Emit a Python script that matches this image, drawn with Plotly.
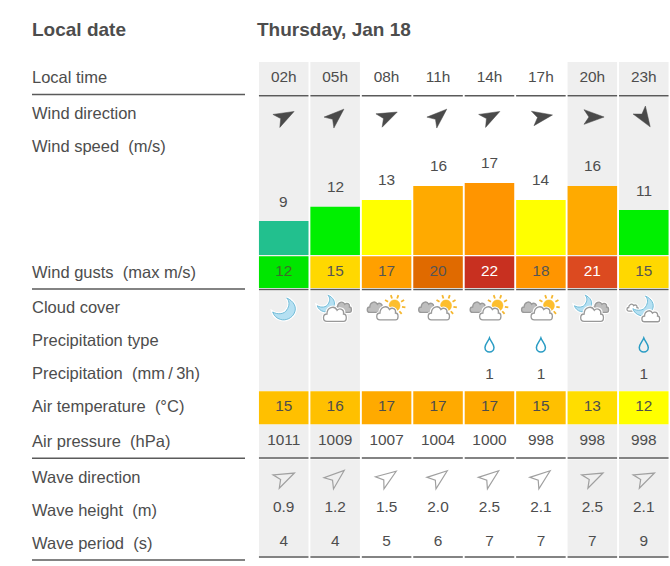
import math
import re
import plotly.graph_objects as go

# ── Data ─────────────────────────────────────────────────────────────────────
hours = ["02h", "05h", "08h", "11h", "14h", "17h", "20h", "23h"]
wind_dir = [62, 48, 65, 48, 62, 80, 90, 147]          # degrees, arrow heading
wind_speed = [9, 12, 13, 16, 17, 14, 16, 11]          # printed numbers
wind_bar = [8.0, 11.4, 13.0, 16.3, 17.0, 13.0, 16.3, 10.6]   # bar heights
wind_colors = ["#22C08E", "#00F000", "#FFFF00", "#FFAA00",
               "#FF9500", "#FFFF00", "#FFAA00", "#00F000"]
gusts = [12, 15, 17, 20, 22, 18, 21, 15]
gust_colors = ["#00E600", "#FFD800", "#FFA000", "#E06A00",
               "#C83020", "#FF9500", "#DC4A20", "#FFD800"]
gust_text = ["#3f6b2a", "#555555", "#555555", "#555555",
             "#ffffff", "#555555", "#ffffff", "#555555"]
cloud_cover = ["moon", "moon_cloud", "sun_cloud", "sun_cloud",
               "sun_cloud", "sun_cloud", "moon_cloud", "moon_clouds"]
precip_type = ["", "", "", "", "rain", "rain", "", "rain"]
precip = ["", "", "", "", "1", "1", "", "1"]
air_temp = [15, 16, 17, 17, 17, 15, 13, 12]
temp_colors = ["#FFC000", "#FFC000", "#FFAA00", "#FFAA00",
               "#FFAA00", "#FFC000", "#FFDD00", "#FFFF00"]
pressure = [1011, 1009, 1007, 1004, 1000, 998, 998, 998]
wave_dir = [65, 50, 55, 52, 52, 52, 65, 65]
wave_height = ["0.9", "1.2", "1.5", "2.0", "2.5", "2.1", "2.5", "2.1"]
wave_period = [4, 4, 5, 6, 7, 7, 7, 9]
night_cols = [0, 1, 6, 7]

labels = ["Local time", "Wind direction", "Wind speed\u00a0 (m/s)",
          "Wind gusts\u00a0 (max m/s)", "Cloud cover", "Precipitation type",
          "Precipitation\u00a0 (mm\u2009/\u20093h)", "Air temperature\u00a0 (°C)",
          "Air pressure\u00a0 (hPa)", "Wave direction", "Wave height\u00a0 (m)",
          "Wave period\u00a0 (s)"]
label_y = [77, 113, 146, 272, 307, 340, 373, 406, 441, 477, 510, 543]

# ── Layout constants (page pixels) ───────────────────────────────────────────
W, H = 670, 566
TXT = "#4d4d4d"
FONT = "Liberation Sans"
CELL = 0.963
WIND_PX = 4.24
xs = list(range(len(hours)))

# ── Icon helpers ─────────────────────────────────────────────────────────────
DART = "M0,-12 L7.5,8.5 L0,3.5 L-7.5,8.5 Z"
CLOUD = ("M-10,8 C-15,8 -15,0 -10,0 C-10,-7 -2,-10 1,-4 C4,-7 9,-5 8,0 "
         "C12,0 12,8 8,8 Z")
MOON = ("M3,-11 C10,-8 13,-2 11,3 C9,9 2,12 -3,10.5 C-7,9.5 -10,6.5 -11,3 "
        "C-6,6 1,5 3,1 C6,-3 6,-8 3,-11 Z")
DROP = ("M0,-7 C1,-4 4.5,-1 4.5,2.5 C4.5,5 2.5,7 0,7 C-2.5,7 -4.5,5 -4.5,2.5 "
        "C-4.5,-1 -1,-4 0,-7 Z")


def move(d, dx=0, dy=0, s=1, rot=0):
    # scale, rotate and shift a path, then flip y for pixel-sized shapes
    out, is_x, px = [], True, 0
    c, n = math.cos(math.radians(rot)), math.sin(math.radians(rot))
    for tok in re.findall(r"[MLCZ]|-?[\d.]+", d):
        if tok in "MLCZ":
            out.append(tok)
        elif is_x:
            px, is_x = float(tok), False
        else:
            py = float(tok)
            x = (px * c - py * n) * s + dx
            y = (px * n + py * c) * s + dy
            out.append(f"{x:.2f},{-y:.2f}")
            is_x = True
    return " ".join(out)


def icon(i, cy, path, fill="rgba(0,0,0,0)", stroke="rgba(0,0,0,0)", w=1.0):
    return dict(type="path", xref="x", yref="y", xsizemode="pixel",
                ysizemode="pixel", xanchor=i, yanchor=cy, path=path,
                fillcolor=fill, line=dict(color=stroke, width=w))


def cloud(i, cy, dx, dy, s, grey=False):
    p = move(CLOUD, dx, dy, s)
    fill, stroke = ("#BEBEBE", "#9A9A9A") if grey else ("#FFFFFF", "#999999")
    return [icon(i, cy, p, "#FFFFFF", "#FFFFFF", 3.5),
            icon(i, cy, p, fill, stroke, 1.3)]


def moon(i, cy, dx, dy, s):
    p = move(MOON, dx, dy, s)
    return [icon(i, cy, p, "#FFFFFF", "#FFFFFF", 3),
            icon(i, cy, p, "#B5E0F2", "#72BCD8", 1)]


def sun(i, cy, dx, dy):
    rays = ""
    for a in range(-150, 90, 40):
        ca, sa = math.cos(math.radians(a)), math.sin(math.radians(a))
        rays += f"M{dx + 7.5 * ca:.2f},{-(dy + 7.5 * sa):.2f} "
        rays += f"L{dx + 11 * ca:.2f},{-(dy + 11 * sa):.2f} "
    disc = move("M-5.5,0 C-5.5,-7.5 5.5,-7.5 5.5,0 C5.5,7.5 -5.5,7.5 -5.5,0 Z", dx, dy)
    return [icon(i, cy, rays, stroke="#F5B730", w=1.8),
            icon(i, cy, disc, "#FDBE2D", "#FDBE2D", 0.5)]


def cloud_icon(i, kind, cy=310):
    if kind == "moon":
        return moon(i, cy, 0, -1, 1.0)
    if kind == "moon_cloud":
        return (moon(i, cy, -9.5, -6.5, 0.76) + cloud(i, cy, 9, -3, 0.66, True)
                + cloud(i, cy, 1, 4, 0.92))
    if kind == "sun_cloud":
        return (sun(i, cy, 8, -4.5) + cloud(i, cy, -10, -3, 0.68, True)
                + cloud(i, cy, 2, 3, 0.86))
    return (cloud(i, cy, -10.5, -2.5, 0.46) + moon(i, cy, -1, -4, 0.9)
            + cloud(i, cy, 8, 6, 0.72))


def text_row(values, y, colors=TXT, size=15.4):
    return go.Scatter(x=xs, y=[y] * len(xs), mode="text",
                      text=[str(v) for v in values],
                      textposition="middle center",
                      textfont=dict(size=size, color=colors, family=FONT),
                      hoverinfo="skip", showlegend=False, cliponaxis=False)


def cell_row(colors, top, bottom):
    return go.Bar(x=xs, y=[bottom - top] * len(xs), base=[top] * len(xs),
                  width=CELL, marker=dict(color=colors, line_width=0),
                  hoverinfo="skip", showlegend=False)


# ── Build figure ─────────────────────────────────────────────────────────────
fig = go.Figure()

fig.add_trace(go.Bar(x=xs, y=wind_bar, yaxis="y2", width=CELL,
                     marker=dict(color=wind_colors, line_width=0),
                     hovertemplate="%{x}: %{y}<extra></extra>", showlegend=False))
fig.add_trace(cell_row(gust_colors, 256.3, 288))
fig.add_trace(cell_row(temp_colors, 391.3, 424.3))

fig.add_trace(text_row(hours, 78))
fig.add_trace(text_row(gusts, 272.5, gust_text))
fig.add_trace(text_row(precip, 375))
fig.add_trace(text_row(air_temp, 407.5))
fig.add_trace(text_row(pressure, 441.5))
fig.add_trace(text_row(wave_height, 508.5))
fig.add_trace(text_row(wave_period, 542))

shapes = []
# grey night columns
for col in night_cols:
    for top, bottom in [(62, 95), (97, 288), (291, 391), (424.3, 457), (459.5, 556)]:
        shapes.append(dict(type="rect", xref="x", yref="y", layer="below",
                           x0=col - CELL / 2, x1=col + CELL / 2, y0=top, y1=bottom,
                           fillcolor="#EFEFEF", line_width=0))
# rules under the table rows
for y in [95.8, 289.4, 457.9, 557]:
    for col in xs:
        shapes.append(dict(type="line", xref="x", yref="y",
                           x0=col - CELL / 2, x1=col + CELL / 2, y0=y, y1=y,
                           line=dict(color="#5a5a5a", width=1.5)))
for y in [94.5, 289, 458.3, 560]:
    shapes.append(dict(type="line", xref="paper", yref="y",
                       x0=32 / W, x1=245 / W, y0=y, y1=y,
                       line=dict(color="#5a5a5a", width=1.5)))
# direction arrows, weather icons
for col in xs:
    shapes.append(icon(col, 117, move(DART, s=0.98, rot=wind_dir[col]), "#4a4a4a", "#4a4a4a", 0.5))
    shapes.append(icon(col, 478, move(DART, s=0.98, rot=wave_dir[col]), stroke="#a0a0a0", w=1.2))
    shapes.extend(cloud_icon(col, cloud_cover[col]))
    if precip_type[col] == "rain":
        shapes.append(icon(col, 345, move(DROP), stroke="#2A9CC4", w=1.5))

annotations = []
for text, y in zip(labels, label_y):
    annotations.append(dict(xref="paper", yref="y", x=32 / W, y=y, text=text,
                            xanchor="left", yanchor="middle", showarrow=False,
                            borderpad=0, borderwidth=0,
                            font=dict(size=16.5, color=TXT, family=FONT)))
annotations.append(dict(xref="paper", yref="y", x=32 / W, y=29, text="<b>Local date</b>",
                        xanchor="left", yanchor="middle", showarrow=False,
                        borderpad=0, borderwidth=0,
                        font=dict(size=19, color=TXT, family=FONT)))
annotations.append(dict(xref="paper", yref="y", x=257 / W, y=29, text="<b>Thursday, Jan 18</b>",
                        xanchor="left", yanchor="middle", showarrow=False,
                        borderpad=0, borderwidth=0,
                        font=dict(size=19, color=TXT, family=FONT)))
for col in xs:
    annotations.append(dict(xref="x", yref="y2", x=col, y=wind_bar[col], yshift=20,
                            text=str(wind_speed[col]), showarrow=False,
                            yanchor="middle",
                            font=dict(size=15.4, color=TXT, family=FONT)))

fig.update_layout(
    width=W, height=H,
    margin=dict(l=0, r=0, t=0, b=0),
    paper_bgcolor="#FFFFFF", plot_bgcolor="rgba(0,0,0,0)",
    font=dict(family=FONT, color=TXT),
    barmode="overlay",
    showlegend=False,
    shapes=shapes,
    annotations=annotations,
    xaxis=dict(domain=[258.0 / W, 669.5 / W], range=[-0.5, 7.5], visible=False),
    yaxis=dict(domain=[0, 1], range=[H, 0], visible=False),
    yaxis2=dict(domain=[1 - 255 / H, 1], range=[0, 255 / WIND_PX], visible=False,
                anchor="x"),
)

# page margin off, the chart fills the whole window
fig.write_html("out.html", config={"displayModeBar": False},
               post_script="document.body.style.margin='0';")
